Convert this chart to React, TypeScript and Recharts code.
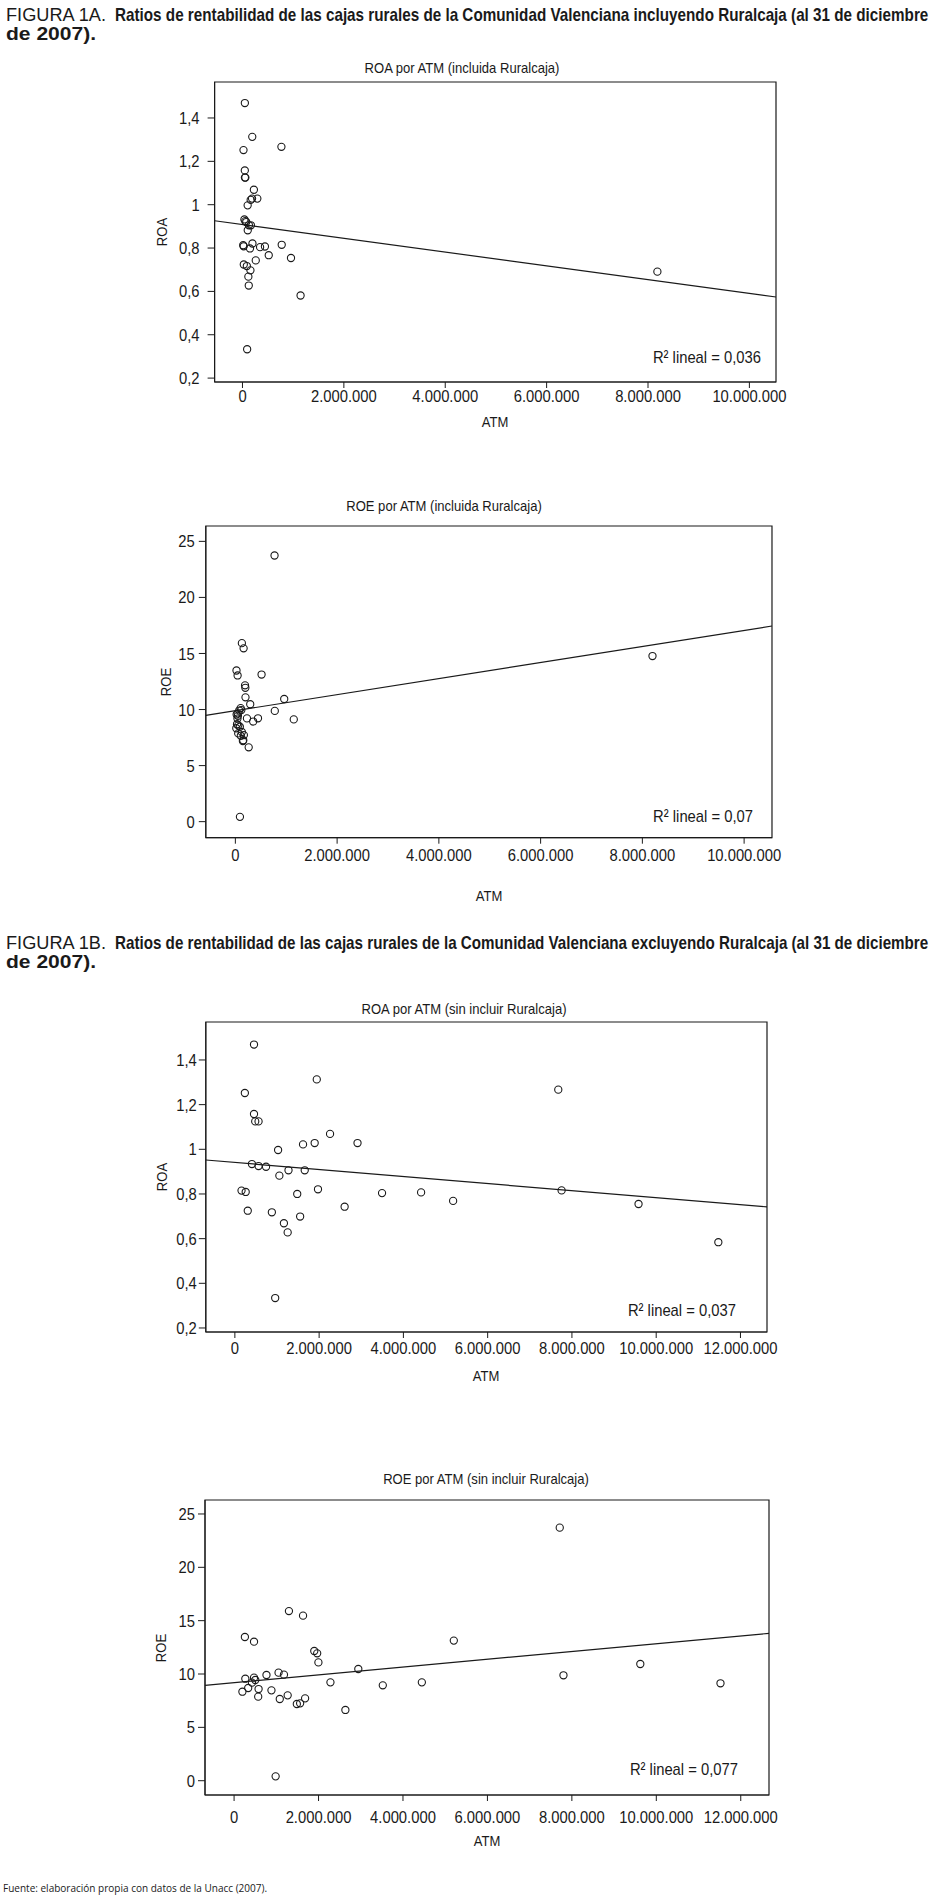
import React, { useLayoutEffect, useRef, useState } from 'react';
import { ScatterChart, Scatter, XAxis, YAxis, ReferenceLine, ReferenceArea } from 'recharts';

// [ATM, ROA] incluida Ruralcaja
const roaIncluida: [number, number][] = [
  [47000, 1.469], [193000, 1.313], [768000, 1.267], [20000, 1.252], [46000, 1.158],
  [48000, 1.125], [57000, 1.125], [225000, 1.069], [162000, 1.022], [189000, 1.028],
  [293000, 1.028], [102000, 0.997], [38000, 0.932], [56000, 0.924], [74000, 0.92],
  [127000, 0.905], [166000, 0.905], [104000, 0.882], [14000, 0.813], [24000, 0.808],
  [197000, 0.821], [148000, 0.798], [347000, 0.804], [443000, 0.807], [774000, 0.815],
  [518000, 0.767], [262000, 0.743], [957000, 0.754], [26000, 0.724], [86000, 0.717],
  [157000, 0.697], [116000, 0.668], [124000, 0.627], [1146000, 0.581], [92000, 0.333],
  [8185000, 0.691],
];

// [ATM, ROE] incluida Ruralcaja
const roeIncluida: [number, number][] = [
  [770000, 23.74], [128000, 15.92], [162000, 15.46], [22000, 13.48], [44000, 13.04],
  [515000, 13.12], [190000, 12.16], [196000, 11.94], [199000, 11.09], [292000, 10.47],
  [960000, 10.94], [104000, 10.13], [117000, 9.95], [76000, 9.91], [775000, 9.88],
  [25000, 9.56], [46000, 9.66], [50000, 9.44], [41000, 9.19], [228000, 9.21],
  [445000, 9.22], [1148000, 9.12], [350000, 8.93], [32000, 8.69], [57000, 8.59],
  [88000, 8.47], [18000, 8.33], [127000, 8.0], [56000, 7.87], [167000, 7.72],
  [107000, 7.66], [148000, 7.19], [156000, 7.26], [262000, 6.63], [90000, 0.43],
  [8199000, 14.77],
];

// [ATM, ROA] sin incluir Ruralcaja
const roaSinRuralcaja: [number, number][] = [
  [454000, 1.469], [1944000, 1.313], [7676000, 1.267], [237000, 1.252], [454000, 1.158],
  [483000, 1.125], [562000, 1.125], [2259000, 1.069], [1618000, 1.022], [1894000, 1.028],
  [2911000, 1.028], [1026000, 0.997], [405000, 0.934], [562000, 0.925], [740000, 0.922],
  [1273000, 0.906], [1658000, 0.906], [1056000, 0.882], [158000, 0.815], [257000, 0.809],
  [1973000, 0.821], [1480000, 0.8], [3493000, 0.804], [4420000, 0.807], [7755000, 0.816],
  [5180000, 0.769], [2605000, 0.743], [9581000, 0.755], [306000, 0.725], [878000, 0.718],
  [1549000, 0.699], [1164000, 0.669], [1253000, 0.628], [11475000, 0.584], [957000, 0.334],
];

// [ATM, ROE] sin incluir Ruralcaja
const roeSinRuralcaja: [number, number][] = [
  [7713000, 23.72], [1299000, 15.9], [1633000, 15.47], [256000, 13.47], [472000, 13.03],
  [5204000, 13.13], [1899000, 12.16], [1968000, 11.94], [1997000, 11.09], [2942000, 10.47],
  [9621000, 10.94], [1053000, 10.13], [1181000, 9.94], [767000, 9.91], [7801000, 9.88],
  [266000, 9.56], [472000, 9.66], [502000, 9.44], [423000, 9.19], [2282000, 9.22],
  [4447000, 9.22], [11520000, 9.13], [3522000, 8.94], [334000, 8.69], [580000, 8.59],
  [885000, 8.47], [197000, 8.34], [1269000, 8.0], [571000, 7.88], [1682000, 7.72],
  [1082000, 7.66], [1486000, 7.19], [1564000, 7.25], [2636000, 6.63], [984000, 0.41],
];

// fitted lines, read at the edges of each plot
const roaIncluidaFit: [number, number][] = [[-550000, 0.926], [10525000, 0.574]];
const roeIncluidaFit: [number, number][] = [[-581000, 9.48], [10548000, 17.45]];
const roaSinFit: [number, number][] = [[-690000, 0.952], [12630000, 0.742]];
const roeSinFit: [number, number][] = [[-689000, 8.94], [12669000, 13.81]];

const roaTicks = [0.2, 0.4, 0.6, 0.8, 1, 1.2, 1.4];
const roeTicks = [0, 5, 10, 15, 20, 25];
const atmTicks10 = [0, 2000000, 4000000, 6000000, 8000000, 10000000];
const atmTicks12 = [0, 2000000, 4000000, 6000000, 8000000, 10000000, 12000000];

const FONT = "'Liberation Sans', Arial, sans-serif";
const INK = '#1a1a1a';
const SQUEEZE = 0.87;

const fmtAtm = (v: number) => String(v).replace(/\B(?=(\d{3})+(?!\d))/g, '.');
const fmtDec = (v: number) => String(v).replace('.', ',');

const Ring = (p: any) => (
  <circle cx={p.cx} cy={p.cy} r={3.6} fill="none" stroke={INK} strokeWidth={1.1} />
);

// condensed-looking tick text
function NarrowTick({ x, y, payload, fmt, side }: any) {
  return (
    <g transform={`translate(${x},${y})`}>
      <text transform={`scale(${SQUEEZE},1)`} textAnchor={side === 'x' ? 'middle' : 'end'}
        dy={side === 'x' ? '0.71em' : '0.355em'} fill={INK} fontSize={17} fontFamily={FONT}>
        {fmt(payload.value)}
      </text>
    </g>
  );
}

function Label({ x, y, text, size = 15, rotate = false, anchor = 'center' }: any) {
  const right = anchor === 'right';
  return (
    <div
      style={{
        position: 'absolute', left: x, top: y, fontFamily: FONT, fontSize: size, color: INK,
        whiteSpace: 'nowrap', lineHeight: 1,
        transformOrigin: right ? 'right center' : 'center center',
        transform: `translate(${right ? '-100%' : '-50%'}, -50%)${rotate ? ' rotate(-90deg)' : ''} scaleX(${SQUEEZE})`,
      }}
    >
      {text}
    </div>
  );
}

// squeezes a line of svg text to a given width
function FitText({ x, y, width, children, ...rest }: any) {
  const ref = useRef<SVGTextElement>(null);
  const [k, setK] = useState(0.8);
  useLayoutEffect(() => {
    const w = ref.current ? ref.current.getComputedTextLength() : 0;
    if (w > 0) setK(width / w);
  }, [width, children]);
  return (
    <text ref={ref} transform={`translate(${x},${y}) scale(${k},1)`} fontFamily={FONT} fill={INK} {...rest}>
      {children}
    </text>
  );
}

function Plot(props: any) {
  const { top, left, right, bottom, data, fit, xDomain, yDomain, xTicks, yTicks, yFmt,
    yTickMargin, xTickMargin, title, titleX, titleY, yLabel, yLabelX, atmY, r2, r2Right, r2Y } = props;
  const H = bottom - top + 10 + 45;
  const pts = data.map(([atm, v]: [number, number]) => ({ atm, v }));
  return (
    <>
      <div style={{ position: 'absolute', left: 0, top: top - 10 }}>
        <ScatterChart width={932} height={H} margin={{ top: 10, right: 932 - right, bottom: 0, left: left - 60 }}>
          <XAxis type="number" dataKey="atm" domain={xDomain} ticks={xTicks} allowDataOverflow interval={0}
            height={45} tickSize={6} tickMargin={xTickMargin} stroke={INK}
            tick={(p: any) => <NarrowTick {...p} fmt={fmtAtm} side="x" />} />
          <YAxis type="number" dataKey="v" domain={yDomain} ticks={yTicks} allowDataOverflow interval={0}
            width={60} tickSize={7} tickMargin={yTickMargin} stroke={INK}
            tick={(p: any) => <NarrowTick {...p} fmt={yFmt} side="y" />} />
          <ReferenceArea x1={xDomain[0]} x2={xDomain[1]} y1={yDomain[0]} y2={yDomain[1]}
            fill="none" stroke={INK} strokeWidth={1.2} ifOverflow="visible" />
          <ReferenceLine segment={[{ x: fit[0][0], y: fit[0][1] }, { x: fit[1][0], y: fit[1][1] }]}
            stroke={INK} strokeWidth={1.2} ifOverflow="visible" />
          <Scatter data={pts} isAnimationActive={false} shape={Ring} />
        </ScatterChart>
      </div>
      <Label x={titleX} y={titleY} text={title} />
      <Label x={yLabelX} y={(top + bottom) / 2} text={yLabel} rotate />
      <Label x={(left + right) / 2} y={atmY} text="ATM" />
      <Label x={r2Right} y={r2Y} text={r2} size={17} anchor="right" />
    </>
  );
}

function FigTitle({ top, tag, rest }: any) {
  return (
    <svg width={932} height={44} style={{ position: 'absolute', left: 0, top }}>
      <FitText x={6} y={21} width={100} fontSize={18}>{tag}</FitText>
      <FitText x={115} y={21} width={813} fontSize={18} fontWeight={700}>{rest}</FitText>
      <FitText x={6} y={40} width={90} fontSize={18} fontWeight={700}>de 2007).</FitText>
    </svg>
  );
}

export default function App() {
  return (
    <div style={{ position: 'absolute', left: 0, top: 0, width: 932, height: 1904, background: '#fff' }}>
      <FigTitle top={0} tag="FIGURA 1A."
        rest="Ratios de rentabilidad de las cajas rurales de la Comunidad Valenciana incluyendo Ruralcaja (al 31 de diciembre" />
      <Plot top={82.3} left={214.6} right={776} bottom={382.3} data={roaIncluida} fit={roaIncluidaFit}
        xDomain={[-550000, 10525000]} yDomain={[0.182, 1.566]} xTicks={atmTicks10} yTicks={roaTicks} yFmt={fmtDec}
        yTickMargin={8} xTickMargin={2} title="ROA por ATM (incluida Ruralcaja)" titleX={462} titleY={67}
        yLabel="ROA" yLabelX={161} atmY={421} r2="R² lineal = 0,036" r2Right={761} r2Y={357} />
      <Plot top={526} left={205.8} right={772} bottom={837.7} data={roeIncluida} fit={roeIncluidaFit}
        xDomain={[-581000, 10548000]} yDomain={[-1.43, 26.37]} xTicks={atmTicks10} yTicks={roeTicks} yFmt={fmtDec}
        yTickMargin={4} xTickMargin={5} title="ROE por ATM (incluida Ruralcaja)" titleX={444} titleY={505}
        yLabel="ROE" yLabelX={165} atmY={895} r2="R² lineal = 0,07" r2Right={753} r2Y={816} />
      <FigTitle top={928} tag="FIGURA 1B."
        rest="Ratios de rentabilidad de las cajas rurales de la Comunidad Valenciana excluyendo Ruralcaja (al 31 de diciembre" />
      <Plot top={1022.3} left={205.8} right={767} bottom={1332.3} data={roaSinRuralcaja} fit={roaSinFit}
        xDomain={[-690000, 12630000]} yDomain={[0.182, 1.57]} xTicks={atmTicks12} yTicks={roaTicks} yFmt={fmtDec}
        yTickMargin={2} xTickMargin={4} title="ROA por ATM (sin incluir Ruralcaja)" titleX={464} titleY={1008}
        yLabel="ROA" yLabelX={161} atmY={1375} r2="R² lineal = 0,037" r2Right={736} r2Y={1310} />
      <Plot top={1500} left={205} right={769} bottom={1795} data={roeSinRuralcaja} fit={roeSinFit}
        xDomain={[-689000, 12669000]} yDomain={[-1.34, 26.31]} xTicks={atmTicks12} yTicks={roeTicks} yFmt={fmtDec}
        yTickMargin={3} xTickMargin={10} title="ROE por ATM (sin incluir Ruralcaja)" titleX={486} titleY={1478}
        yLabel="ROE" yLabelX={160} atmY={1840} r2="R² lineal = 0,077" r2Right={738} r2Y={1769} />
      <svg width={400} height={20} style={{ position: 'absolute', left: 0, top: 1880 }}>
        <FitText x={3} y={12} width={264} fontSize={11} fontFamily="'Open Sans', 'Liberation Sans', sans-serif">
          Fuente: elaboración propia con datos de la Unacc (2007).
        </FitText>
      </svg>
    </div>
  );
}
